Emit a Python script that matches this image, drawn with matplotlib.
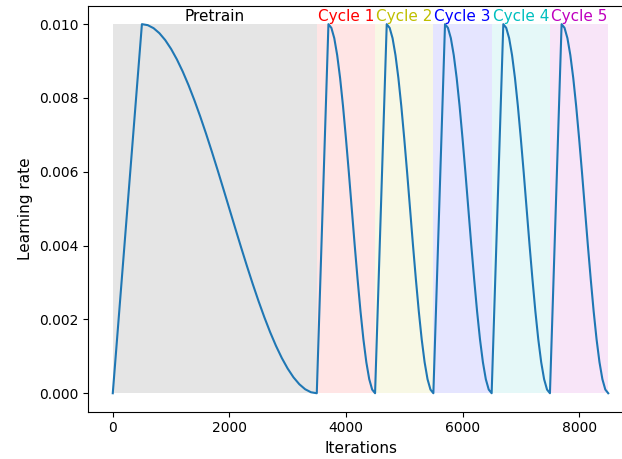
import matplotlib
matplotlib.use("Agg")
from matplotlib import pyplot as plt

# pretrain schedule points (warmup to 500, decay to 3500)
pretrain_iters = [0, 500, 600, 700, 800, 900, 1000, 1100, 1200, 1300, 1400,
                  1500, 1600, 1700, 1800, 1900, 2000, 2100, 2200, 2300, 2400,
                  2500, 2600, 2700, 2800, 2900, 3000, 3100, 3200, 3300, 3400, 3500]
pretrain_lr = [0.0, 0.01, 0.009973, 0.009891, 0.009755, 0.009568, 0.00933,
               0.009045, 0.008716, 0.008346, 0.007939, 0.0075, 0.007034,
               0.006545, 0.00604, 0.005523, 0.005, 0.004477, 0.00396, 0.003455,
               0.002966, 0.0025, 0.002061, 0.001654, 0.001284, 0.000955,
               0.00067, 0.000432, 0.000245, 0.000109, 0.000027, 0.0]

# one cycle (offsets from cycle start), same shape for all five cycles
cycle_offsets = [0, 200, 250, 300, 350, 400, 450, 500, 550, 600, 650, 700,
                 750, 800, 850, 900, 950, 1000]
cycle_lr = [0.0, 0.01, 0.0099, 0.00962, 0.00916, 0.00854, 0.00778, 0.00691,
            0.00598, 0.005, 0.00402, 0.00309, 0.00222, 0.00146, 0.00084,
            0.00038, 0.0001, 0.0]

region_labels = ["Pretrain", "Cycle 1", "Cycle 2", "Cycle 3", "Cycle 4", "Cycle 5"]
region_starts = [0, 3500, 4500, 5500, 6500, 7500]
region_ends = [3500, 4500, 5500, 6500, 7500, 8500]
region_colors = ["gray", "r", "y", "b", "c", "m"]
label_colors = ["k", "r", "y", "b", "c", "m"]
max_lr = 0.01


def main():
    iters = list(pretrain_iters)
    lrs = list(pretrain_lr)
    for start in region_starts[1:]:
        iters += [start + o for o in cycle_offsets[1:]]
        lrs += cycle_lr[1:]

    fig = plt.figure(figsize=(6.22, 4.59), dpi=100)
    ax = fig.add_axes([88 / 622, 47.3 / 459, 545 / 622, 406 / 459])

    for i in range(len(region_labels)):
        alpha = 0.2 if region_colors[i] == "gray" else 0.1
        ax.fill_between([region_starts[i], region_ends[i]], 0, max_lr,
                        color=region_colors[i], alpha=alpha, linewidth=0)
        ax.text((region_starts[i] + region_ends[i]) / 2, max_lr, region_labels[i],
                color=label_colors[i], ha="center", va="bottom", fontsize=11)

    ax.plot(iters, lrs, color="tab:blue", linewidth=1.5)
    ax.set_xlabel("Iterations", fontsize=11)
    ax.set_ylabel("Learning rate", fontsize=11)

    fig.savefig("out.png", dpi=100)


if __name__ == "__main__":
    main()
